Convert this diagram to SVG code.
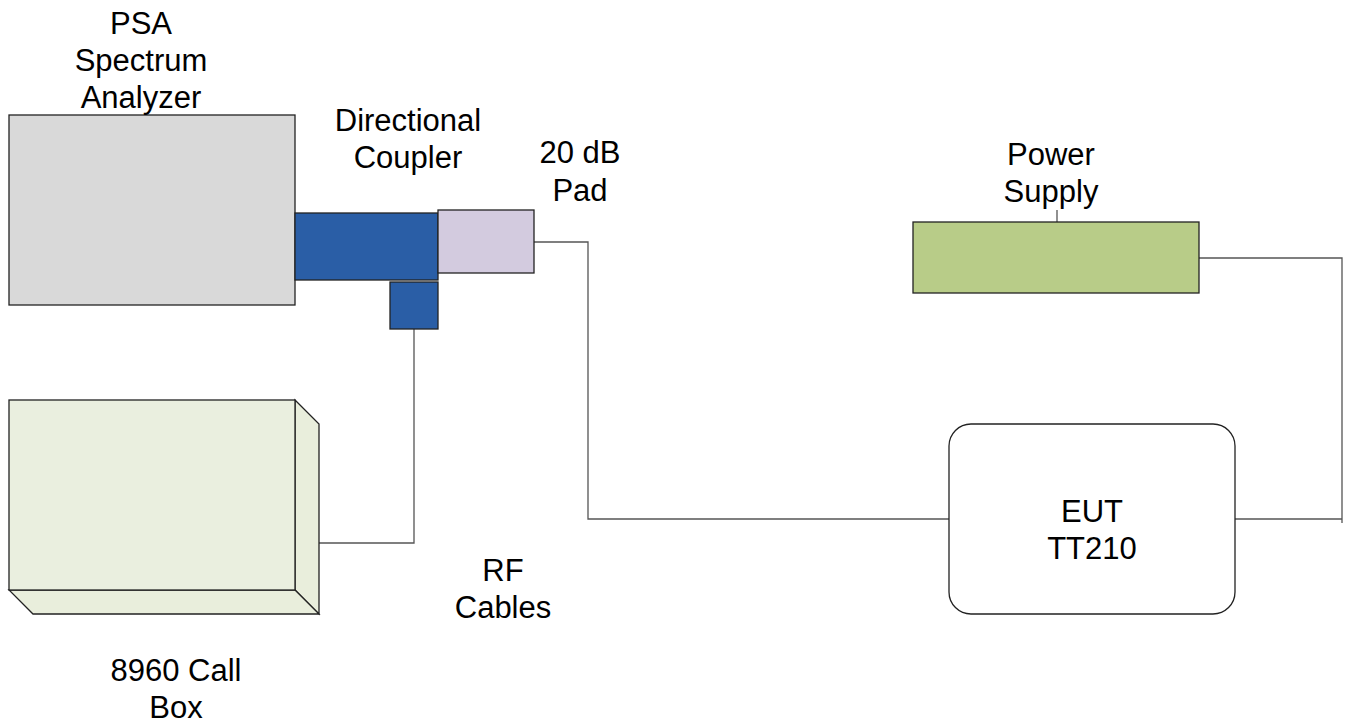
<svg xmlns="http://www.w3.org/2000/svg" width="1348" height="726" viewBox="0 0 1348 726">
<style>
text{font-family:"Liberation Sans",Arial,sans-serif;font-size:31px;fill:#000;text-anchor:middle}
.box{stroke:#222;stroke-width:1.3}
.wire{fill:none;stroke:#555;stroke-width:1.3}
</style>
<rect width="1348" height="726" fill="#fff"/>
<g id="connectors">
<polyline class="wire" points="534,242 588,242 588,519 949,519"/>
<polyline class="wire" points="414,329 414,543 319,543"/>
<polyline class="wire" points="1199,258 1342,258 1342,523"/>
<line class="wire" x1="1235" y1="519" x2="1342" y2="519"/>
<line class="wire" x1="1057" y1="210" x2="1057" y2="222"/>
</g>
<g id="spectrum-analyzer">
<rect class="box" x="9" y="115" width="286" height="190" fill="#d9d9d9"/>
<text x="141" y="34">PSA</text>
<text x="141" y="71">Spectrum</text>
<text x="141" y="108">Analyzer</text>
</g>
<g id="directional-coupler">
<rect class="box" x="295" y="213" width="143" height="67" fill="#2a5ea6"/>
<rect class="box" x="390" y="282" width="48" height="47" fill="#2a5ea6"/>
<text x="408" y="131">Directional</text>
<text x="408" y="168">Coupler</text>
</g>
<g id="pad">
<rect class="box" x="438" y="210" width="96" height="63" fill="#d3cbdf" stroke="#444"/>
<text x="580" y="163">20 dB</text>
<text x="580" y="201">Pad</text>
</g>
<g id="call-box">
<polygon class="box" points="295,400 319,424 319,614 295,590" fill="#e9eedc"/>
<polygon class="box" points="9,590 295,590 319,614 33,614" fill="#e9eedc"/>
<rect class="box" x="9" y="400" width="286" height="190" fill="#eaefdf"/>
<text x="176" y="681">8960 Call</text>
<text x="176" y="718">Box</text>
</g>
<g id="power-supply">
<rect class="box" x="913" y="222" width="286" height="71" fill="#b8cc88" stroke="#333"/>
<text x="1051" y="165">Power</text>
<text x="1051" y="202">Supply</text>
</g>
<g id="eut">
<rect class="box" x="949" y="424" width="286" height="190" rx="22" ry="22" fill="#fff"/>
<text x="1092" y="522">EUT</text>
<text x="1092" y="559">TT210</text>
</g>
<g id="rf-cables">
<text x="503" y="581">RF</text>
<text x="503" y="618">Cables</text>
</g>
</svg>
